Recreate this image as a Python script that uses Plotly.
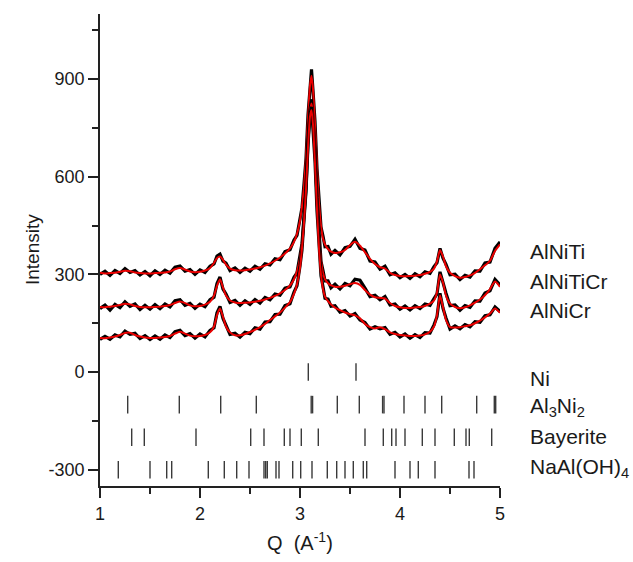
import plotly.graph_objects as go

# ---------------- data ----------------
Q = [1.00, 1.05, 1.10, 1.15, 1.20, 1.25, 1.30, 1.35, 1.40, 1.45, 1.50, 1.55, 1.60, 1.65, 1.70,
     1.75, 1.80, 1.85, 1.90, 1.95, 2.00, 2.05, 2.10, 2.14, 2.17, 2.20, 2.23, 2.26, 2.30, 2.35,
     2.40, 2.45, 2.50, 2.55, 2.60, 2.65, 2.70, 2.75, 2.80, 2.85, 2.90, 2.94, 2.97, 3.00, 3.02,
     3.04, 3.06, 3.08, 3.10, 3.115, 3.13, 3.15, 3.17, 3.19, 3.21, 3.23, 3.25, 3.28, 3.31, 3.35,
     3.40, 3.45, 3.50, 3.55, 3.60, 3.65, 3.70, 3.75, 3.80, 3.85, 3.90, 3.95, 4.00, 4.05, 4.10,
     4.15, 4.20, 4.25, 4.30, 4.34, 4.37, 4.40, 4.43, 4.46, 4.50, 4.55, 4.60, 4.65, 4.70, 4.75,
     4.80, 4.85, 4.90, 4.95, 5.00]

# observed (black)
obs_AlNiTi = [300, 310, 297, 312, 303, 318, 306, 312, 298, 309, 296, 311, 300, 313, 304,
              322, 326, 310, 315, 300, 314, 306, 325, 332, 356, 362, 341, 335, 312, 320,
              306, 319, 310, 325, 316, 333, 329, 348, 345, 370, 376, 406, 420, 470, 505,
              578, 655, 790, 885, 930, 865, 770, 625, 528, 445, 418, 385, 386, 362, 374,
              360, 382, 386, 408, 380, 375, 341, 338, 316, 325, 299, 305, 290, 300, 288,
              302, 293, 308, 303, 324, 336, 380, 350, 331, 299, 301, 284, 297, 292, 311,
              310, 335, 338, 380, 400]
obs_AlNiTiCr = [195, 206, 190, 208, 198, 216, 202, 209, 192, 205, 193, 207, 195, 209, 200,
                219, 222, 205, 211, 196, 209, 201, 222, 230, 272, 292, 255, 240, 214, 220,
                205, 219, 208, 223, 212, 229, 222, 240, 236, 258, 262, 291, 305, 356, 395,
                478, 565, 710, 805, 838, 785, 690, 535, 428, 340, 312, 280, 280, 259, 270,
                255, 272, 265, 285, 282, 258, 232, 236, 222, 232, 206, 209, 193, 203, 191,
                204, 195, 209, 205, 226, 240, 308, 270, 242, 204, 206, 190, 204, 199, 219,
                218, 243, 250, 285, 268]
obs_AlNiCr = [100, 110, 101, 114, 108, 126, 116, 119, 103, 112, 100, 111, 101, 114, 106,
              124, 128, 112, 118, 104, 117, 108, 128, 136, 182, 202, 165, 146, 116, 119,
              107, 122, 118, 136, 132, 154, 155, 177, 178, 204, 210, 246, 265, 326, 375,
              468, 555, 698, 790, 815, 752, 648, 495, 388, 296, 262, 227, 224, 202, 204,
              184, 189, 172, 180, 160, 152, 132, 139, 133, 137, 116, 122, 108, 117, 104,
              115, 106, 121, 120, 145, 170, 242, 196, 166, 132, 142, 133, 146, 139, 155,
              153, 173, 176, 200, 186]

# fitted (red)
fit_AlNiTi = [305, 303, 304, 305, 308, 311, 310, 306, 304, 303, 303, 304, 305, 306, 309,
              316, 320, 315, 309, 307, 308, 312, 320, 335, 350, 355, 345, 330, 318, 313,
              312, 313, 315, 318, 322, 327, 334, 342, 352, 364, 380, 400, 425, 465, 510,
              570, 660, 780, 880, 910, 870, 760, 630, 520, 450, 410, 392, 378, 370, 366,
              368, 375, 390, 400, 388, 368, 348, 332, 322, 318, 305, 298, 295, 294, 295,
              296, 298, 302, 308, 318, 340, 375, 355, 325, 305, 295, 290, 292, 297, 305,
              316, 328, 342, 372, 392]
fit_AlNiTiCr = [200, 199, 201, 203, 206, 210, 208, 203, 200, 199, 199, 200, 201, 203, 206,
                212, 217, 212, 205, 202, 203, 207, 216, 235, 265, 285, 260, 235, 220, 214,
                212, 213, 214, 216, 219, 223, 228, 234, 242, 252, 266, 285, 310, 350, 400,
                470, 570, 700, 800, 825, 790, 680, 540, 420, 345, 305, 285, 273, 266, 262,
                262, 265, 270, 274, 268, 252, 238, 230, 228, 226, 212, 203, 199, 197, 197,
                198, 200, 203, 210, 220, 245, 300, 275, 235, 210, 200, 196, 199, 205, 213,
                223, 236, 255, 278, 262]
fit_AlNiCr = [105, 104, 106, 109, 114, 120, 121, 114, 109, 106, 105, 105, 106, 108, 111,
              118, 124, 118, 112, 110, 111, 114, 122, 140, 175, 195, 170, 140, 122, 113,
              113, 117, 123, 130, 138, 148, 160, 171, 183, 198, 215, 240, 270, 320, 380,
              460, 560, 690, 785, 805, 760, 640, 500, 380, 300, 255, 232, 218, 208, 198,
              190, 183, 178, 174, 165, 148, 138, 134, 138, 132, 122, 117, 114, 112, 111,
              111, 112, 116, 124, 140, 175, 235, 200, 160, 138, 137, 138, 141, 144, 150,
              158, 168, 180, 195, 182]

series_names = ["AlNiTi", "AlNiTiCr", "AlNiCr"]
series_obs = [obs_AlNiTi, obs_AlNiTiCr, obs_AlNiCr]
series_fit = [fit_AlNiTi, fit_AlNiTiCr, fit_AlNiCr]
label_y = [371, 278, 189]

# reflection positions (Q, A^-1)
refl_Ni = [3.083, 3.56]
refl_Al3Ni2 = [1.277, 1.793, 2.207, 2.563, 3.112, 3.126, 3.373, 3.593, 3.826, 3.840,
               4.04, 4.25, 4.417, 4.767, 4.943, 4.957]
refl_Bayerite = [1.317, 1.443, 1.96, 2.507, 2.64, 2.843, 2.9, 3.013, 3.183, 3.65, 3.833,
                 3.917, 3.96, 4.05, 4.223, 4.35, 4.543, 4.66, 4.693, 4.917]
refl_NaAlOH4 = [1.183, 1.5, 1.667, 1.717, 2.083, 2.243, 2.367, 2.49, 2.64, 2.657, 2.673,
                2.76, 2.79, 2.927, 3.007, 3.12, 3.273, 3.367, 3.45, 3.533, 3.633, 3.667,
                3.95, 4.1, 4.183, 4.35, 4.69, 4.74]
phase_labels = ["Ni", "Al<sub>3</sub>Ni<sub>2</sub>", "Bayerite", "NaAl(OH)<sub>4</sub>"]
phase_refl = [refl_Ni, refl_Al3Ni2, refl_Bayerite, refl_NaAlOH4]
phase_row = [0, -100, -200, -300]
phase_label_y = [-20, -106, -198, -294]

x_ticks = [1, 2, 3, 4, 5]
y_ticks = [-300, 0, 300, 600, 900]
y_ticktext = ["-300", "0", "300", "600", "900"]

# ---------------- figure ----------------
FONT = "Liberation Sans, Arial, sans-serif"
fig = go.Figure()

for obs, fit in zip(series_obs, series_fit):
    fig.add_trace(go.Scatter(x=Q, y=obs, mode="lines", line=dict(color="black", width=3.2),
                             showlegend=False, hoverinfo="skip"))
    fig.add_trace(go.Scatter(x=Q, y=fit, mode="lines",
                             line=dict(color="rgb(235,0,0)", width=2, shape="spline", smoothing=0.6),
                             showlegend=False, hoverinfo="skip"))

HALF = 27
for refl, row in zip(phase_refl, phase_row):
    xs, ys = [], []
    for q in refl:
        xs += [q, q, None]
        ys += [row - HALF, row + HALF, None]
    fig.add_trace(go.Scatter(x=xs, y=ys, mode="lines", line=dict(color="#3a3a3a", width=1.4),
                             showlegend=False, hoverinfo="skip"))

for name, yv in zip(series_names, label_y):
    fig.add_annotation(x=1.07, xref="paper", y=yv, yref="y", text=name, showarrow=False,
                       xanchor="left", yanchor="middle", font=dict(size=21, color="#1a1a1a", family=FONT))
for name, yv in zip(phase_labels, phase_label_y):
    fig.add_annotation(x=1.07, xref="paper", y=yv, yref="y", text=name, showarrow=False,
                       xanchor="left", yanchor="middle", font=dict(size=21, color="#1a1a1a", family=FONT))

fig.add_annotation(x=-0.17, xref="paper", y=0.5, yref="paper", text="Intensity", textangle=-90,
                   showarrow=False, xanchor="center", yanchor="middle",
                   font=dict(size=19, color="#1a1a1a", family=FONT))
fig.add_annotation(x=0.5, xref="paper", y=(486 - 541) / 472.0, yref="paper",
                   text="Q  (A<sup>-1</sup>)",
                   showarrow=False, xanchor="center", yanchor="middle",
                   font=dict(size=20, color="#1a1a1a", family=FONT))

fig.update_layout(
    width=633, height=562,
    margin=dict(l=100, r=133, t=14, b=76),
    paper_bgcolor="white", plot_bgcolor="white",
    font=dict(family=FONT, size=18, color="#1a1a1a"),
    xaxis=dict(range=[1, 5], tickvals=x_ticks, ticks="outside", ticklen=10, tickwidth=1.5,
               tickcolor="#222", showline=True, linecolor="#222", linewidth=1.8,
               showgrid=False, zeroline=False, tickfont=dict(size=18),
               minor=dict(dtick=0.5, tick0=1, ticks="outside", ticklen=6, tickwidth=1.5, tickcolor="#222")),
    yaxis=dict(range=[-350, 1100], tickvals=y_ticks, ticktext=y_ticktext, ticks="outside",
               ticklen=10, tickwidth=1.5,
               tickcolor="#222", showline=True, linecolor="#222", linewidth=1.8,
               showgrid=False, zeroline=False, tickfont=dict(size=18),
               minor=dict(dtick=150, tick0=0, ticks="outside", ticklen=6, tickwidth=1.5, tickcolor="#222")),
)

fig.write_html("out.html")
